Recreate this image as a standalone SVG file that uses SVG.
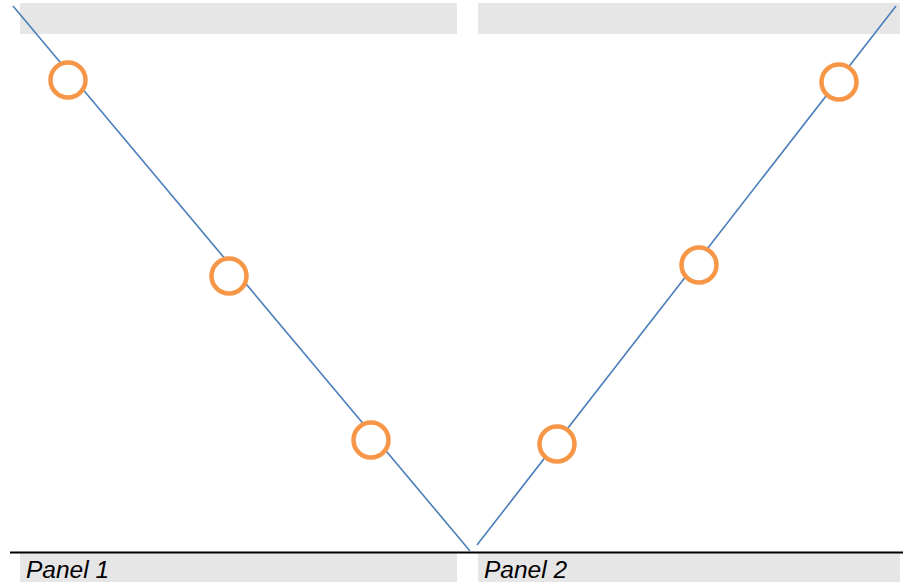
<svg xmlns="http://www.w3.org/2000/svg" width="903" height="582" viewBox="0 0 903 582">
<style>
.bar{fill:#e6e6e6}
.ln{stroke:#4a7ebb;stroke-width:1.6;fill:none}
.node{fill:#fff;stroke:#f79646;stroke-width:4.5}
.lbl{font-family:"Liberation Sans",Arial,sans-serif;font-size:24.5px;font-style:italic;fill:#000}
</style>
<rect width="903" height="582" fill="#fff"/>
<g id="bars">
<rect class="bar" x="20" y="3" width="437" height="31"/>
<rect class="bar" x="478" y="3" width="422" height="31"/>
<rect class="bar" x="20" y="553" width="437" height="29"/>
<rect class="bar" x="478" y="553" width="422" height="29"/>
<line x1="10" y1="552.5" x2="903" y2="552.5" stroke="#000" stroke-width="2"/>
</g>
<g id="connectors">
<line class="ln" x1="13" y1="6" x2="470" y2="551"/>
<line class="ln" x1="477" y1="545" x2="896" y2="6"/>
</g>
<g id="n1"><circle class="node" cx="68" cy="80" r="17.5"/></g>
<g id="n2"><circle class="node" cx="229" cy="276" r="17.5"/></g>
<g id="n3"><circle class="node" cx="371" cy="440" r="17.5"/></g>
<g id="n4"><circle class="node" cx="557" cy="444" r="17.5"/></g>
<g id="n5"><circle class="node" cx="699" cy="265" r="17.5"/></g>
<g id="n6"><circle class="node" cx="839" cy="82" r="17.5"/></g>
<g id="labels">
<text class="lbl" x="26" y="578">Panel 1</text>
<text class="lbl" x="484" y="578">Panel 2</text>
</g>
</svg>
